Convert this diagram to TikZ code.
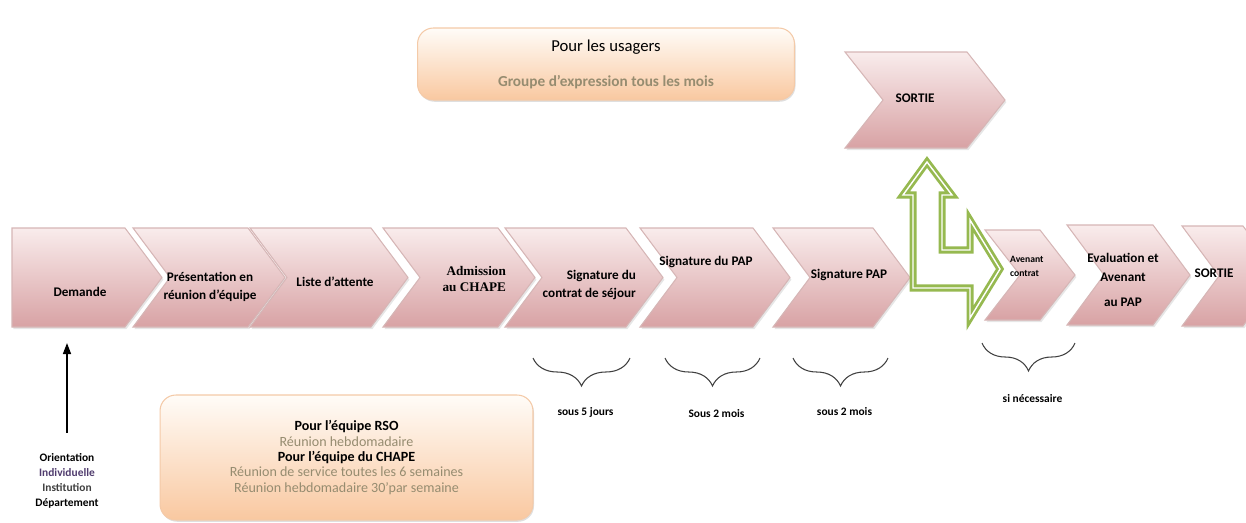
\documentclass[tikz,border=0pt]{standalone}
\usepackage{fontspec}
\setmainfont{Carlito}
\newfontfamily\admfont{Liberation Serif}
\usetikzlibrary{arrows.meta, positioning, calc, shadows, decorations.pathreplacing}

\definecolor{chevtop}{RGB}{249,236,236}
\definecolor{chevbot}{RGB}{216,162,164}
\definecolor{chevline}{RGB}{214,182,182}
\definecolor{peachtop}{RGB}{255,252,248}
\definecolor{peachbot}{RGB}{249,200,160}
\definecolor{peachline}{RGB}{244,202,168}
\definecolor{tantext}{RGB}{150,140,112}
\definecolor{indiv}{RGB}{80,60,110}
\definecolor{arrowgreen}{RGB}{150,185,80}

\begin{document}
\begin{tikzpicture}[
        x=0.02cm, y=-0.02cm,
        chev/.style={draw=chevline, line width=0.6pt, top color=chevtop, bottom color=chevbot,
            drop shadow={opacity=0.2, shadow xshift=0.8pt, shadow yshift=-1.2pt}},
        steptext/.style={font=\fontsize{7.5}{10.5}\selectfont\bfseries, align=center, inner sep=1pt},
        infobox/.style={draw=peachline, line width=0.6pt, rounded corners=9pt, top color=peachtop, bottom color=peachbot,
            drop shadow={opacity=0.25, shadow xshift=0.6pt, shadow yshift=-1pt}},
        delay/.style={decorate, decoration={brace, amplitude=0.56cm, aspect=0.5}, draw=black!75, line width=0.6pt},
        delaytext/.style={font=\fontsize{6.5}{7.5}\selectfont\bfseries, inner sep=1pt},
        arrow/.style={-{Triangle[length=2.2mm, width=1.6mm]}, line width=0.8pt},
        bigarrow/.style={draw=arrowgreen, line width=1.6pt, double=white, double distance=0.8pt, line join=miter}
    ]
    \useasboundingbox (0,0) rectangle (1246,522);
    \clip (0,0) rectangle (1246,522);

    % top box
    \node[infobox, minimum width=7.54cm, minimum height=1.44cm, align=center, font=\fontsize{9.5}{10}\selectfont]
        (usagers) at (606,64) {Pour les usagers\\[10pt]{\color{tantext}\fontsize{8.7}{10}\selectfont\bfseries Groupe d'expression tous les mois}};

    % process chevrons
    \path[chev] (12,228) -- (125,228) -- (162,277.5) -- (125,327) -- (12,327) -- cycle;
    \coordinate (ch1) at (87,277.5);
    \coordinate (ch1-s) at (87,327);
    \foreach \n/\xl/\xt/\yt/\yb/\d in {ch2/133/285/228/327/37, ch3/250/408/228/327/37, ch4/383/535/228/327/37,
            ch5/505/663/228/327/37, ch6/640/790/228/327/37, ch7/773/910/228/327/37, ch8/985/1075/230/320/35,
            ch9/1067/1190/225/325/37, ch10/1182/1280/226/326/37, ch11/845/1005/52/148/38}{
        \pgfmathsetmacro\ym{(\yt+\yb)/2}
        \path[chev] (\xl,\yt) -- (\xt-\d,\yt) -- (\xt,\ym) -- (\xt-\d,\yb) -- (\xl,\yb) -- (\xl+\d,\ym) -- cycle;
        \coordinate (\n) at ({(\xl+\xt)/2},\ym);
    }

    \node[steptext] (demande) at (80,292) {Demande};
    \node[steptext] (presentation) at (210,287) {Présentation en\\réunion d'équipe};
    \node[steptext] (attente) at (335,282) {Liste d'attente};
    \node[steptext, align=right, anchor=east, font=\admfont\fontsize{7.5}{9}\selectfont\bfseries] (admission) at (508,279) {Admission\\au CHAPE};
    \node[steptext, align=right, anchor=east] (contrat) at (638,285) {Signature du\\contrat de séjour};
    \node[steptext] (pap) at (706,262) {Signature du PAP};
    \node[steptext] (signpap) at (849,275) {Signature PAP};
    \node[steptext, align=left, anchor=west, font=\fontsize{5.5}{8}\selectfont\bfseries] (avenant) at (1008,266) {Avenant\\contrat};
    \node[steptext] (evaluation) at (1123,280) {Evaluation et\\Avenant\\[4pt]au PAP};
    \node[steptext] (sortie) at (1214,273) {SORTIE};
    \node[steptext] (sortiehaut) at (915,98) {SORTIE};

    % green two-way arrow
    \draw[bigarrow] (927,162) -- (952,195) -- (942,195) -- (942,250) -- (970,250) -- (970,220) -- (1000,269)
        -- (970,318) -- (970,288) -- (913,288) -- (913,195) -- (903,195) -- cycle;

    % delays
    \foreach \n/\xl/\xr/\y/\ly/\txt in {d1/533/630/358/412/sous 5 jours, d2/665/760/358/414/Sous 2 mois,
            d3/793/888/358/412/sous 2 mois, d4/982/1075/343/399/si nécessaire}{
        \coordinate (\n-r) at (\xr,\y);
        \coordinate (\n-l) at (\xl,\y);
        \draw[delay] (\n-r) -- (\n-l);
        \node[delaytext] (\n) at ({(\xl+\xr)/2+4},\ly) {\txt};
    }

    % entry
    \node[font=\fontsize{6.5}{8.5}\selectfont\bfseries, align=center, inner sep=1pt] (orientation) at (67,481)
        {Orientation\\{\color{indiv}Individuelle}\\{\color{black!75}Institution}\\Département};
    \draw[arrow, shorten <=0.38cm, shorten >=0.32cm] (orientation.north) -- (orientation.north |- ch1-s);

    % bottom box
    \node[infobox, minimum width=7.46cm, minimum height=2.5cm, align=center, font=\fontsize{8}{8.8}\selectfont]
        (equipes) at (346.5,457.5) {\textbf{Pour l'équipe RSO}\\{\color{tantext}Réunion hebdomadaire}\\
        \textbf{Pour l'équipe du CHAPE}\\{\color{tantext}Réunion de service toutes les 6 semaines}\\
        {\color{tantext}Réunion hebdomadaire 30'par semaine}};
\end{tikzpicture}
\end{document}
